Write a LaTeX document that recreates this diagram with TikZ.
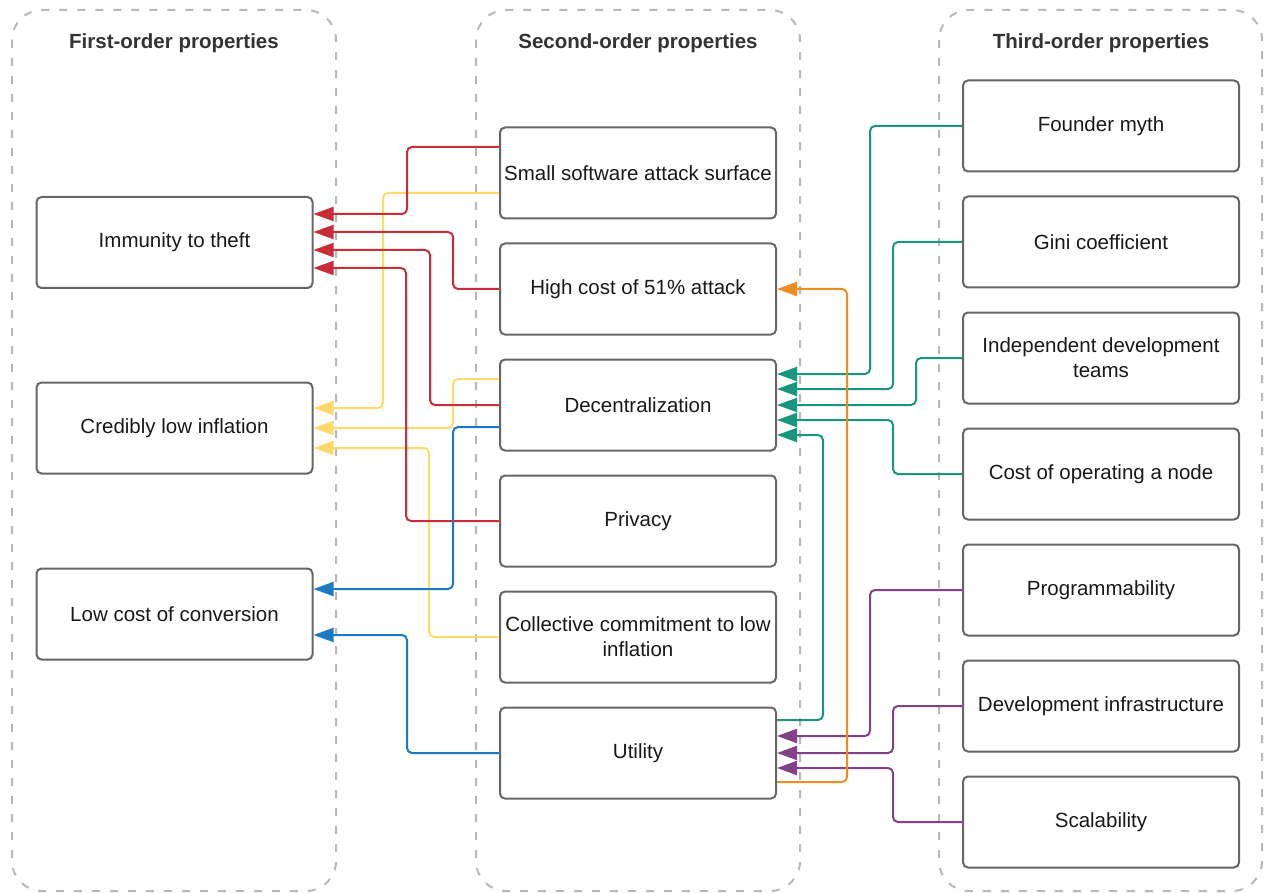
\documentclass[tikz,border=0pt]{standalone}
\usepackage{fontspec}
\setmainfont{Liberation Sans}
\usetikzlibrary{arrows.meta}
\definecolor{cred}{HTML}{C92D39}
\definecolor{cyel}{HTML}{FFDA6A}
\definecolor{cblue}{HTML}{1A7BC1}
\definecolor{cgreen}{HTML}{19967D}
\definecolor{cpurple}{HTML}{834187}
\definecolor{corange}{HTML}{EF8D22}
\definecolor{boxline}{HTML}{666666}
\definecolor{laneline}{HTML}{B8B8B8}
\definecolor{titletext}{HTML}{333333}
\begin{document}
\begin{tikzpicture}[x=1pt,y=-1pt,
  font=\fontsize{20.5}{25}\selectfont,
  box/.style={draw=boxline, fill=white, line width=2pt, rounded corners=5pt,
    minimum width=276pt, minimum height=91pt, align=center, inner sep=2pt, text=black!90},
  lanebox/.style={draw=laneline, line width=2pt, dash pattern=on 8pt off 10pt, rounded corners=30pt},
  link/.style={line width=2pt, rounded corners=5pt, -{Triangle[length=20pt,width=14pt]}},
  title/.style={font=\fontsize{20.5}{25}\selectfont\bfseries, text=titletext}]
\useasboundingbox (0,0) rectangle (1266,893);

% swimlanes
\draw[lanebox] (12,10) rectangle (336,891);
\draw[lanebox] (476,10) rectangle (800,891);
\draw[lanebox] (939,10) rectangle (1262,891);

\node[title] (t1) at (174,43) {First-order properties};
\node[title] (t2) at (638,43) {Second-order properties};
\node[title] (t3) at (1101,43) {Third-order properties};

% first-order
\node[box] (theft) at (174.5,242.5) {Immunity to theft};
\node[box] (infl)  at (174.5,428) {Credibly low inflation};
\node[box] (conv)  at (174.5,614) {Low cost of conversion};

% second-order
\node[box] (ss)   at (638,173) {Small software attack surface};
\node[box] (hc)   at (638,289) {High cost of 51\% attack};
\node[box] (dec)  at (638,405) {Decentralization};
\node[box] (priv) at (638,521) {Privacy};
\node[box] (coll) at (638,637) {Collective commitment to low\\inflation};
\node[box] (util) at (638,753) {Utility};

% third-order
\node[box] (fm)   at (1101,126) {Founder myth};
\node[box] (gini) at (1101,242) {Gini coefficient};
\node[box] (idt)  at (1101,358) {Independent development\\teams};
\node[box] (cost) at (1101,474) {Cost of operating a node};
\node[box] (prog) at (1101,590) {Programmability};
\node[box] (dev)  at (1101,706) {Development infrastructure};
\node[box] (scal) at (1101,822) {Scalability};

% yellow
\draw[link, cyel] ([yshift=-20pt]ss.west) -- ++(-116,0) |- ([yshift=20pt]infl.east);
\draw[link, cyel] ([yshift=26pt]dec.west) -- ++(-46,0) |- (infl.east);
\draw[link, cyel] (coll.west) -- ++(-70,0) |- ([yshift=-20pt]infl.east);

% red
\draw[link, cred] ([yshift=26pt]ss.west) -- ++(-92,0) |- ([yshift=28.5pt]theft.east);
\draw[link, cred] (hc.west) -- ++(-46,0) |- ([yshift=10.5pt]theft.east);
\draw[link, cred] (dec.west) -- ++(-69,0) |- ([yshift=-7.5pt]theft.east);
\draw[link, cred] (priv.west) -- ++(-93,0) |- ([yshift=-25.5pt]theft.east);

% blue
\draw[link, cblue] ([yshift=-22pt]dec.west) -- ++(-46,0) |- ([yshift=25pt]conv.east);
\draw[link, cblue] (util.west) -- ++(-92,0) |- ([yshift=-21pt]conv.east);

% green
\draw[link, cgreen] (fm.west) -- ++(-92,0) |- ([yshift=31pt]dec.east);
\draw[link, cgreen] (gini.west) -- ++(-69,0) |- ([yshift=16pt]dec.east);
\draw[link, cgreen] (idt.west) -- ++(-46,0) |- (dec.east);
\draw[link, cgreen] (cost.west) -- ++(-69,0) |- ([yshift=-15pt]dec.east);
\draw[link, cgreen] ([yshift=33pt]util.east) -- ++(46,0) |- ([yshift=-30pt]dec.east);

% purple
\draw[link, cpurple] (prog.west) -- ++(-92,0) |- ([yshift=17pt]util.east);
\draw[link, cpurple] (dev.west) -- ++(-69,0) |- (util.east);
\draw[link, cpurple] (scal.west) -- ++(-69,0) |- ([yshift=-15pt]util.east);

% orange
\draw[link, corange] ([yshift=-29pt]util.east) -- ++(70,0) |- (hc.east);
\end{tikzpicture}
\end{document}
